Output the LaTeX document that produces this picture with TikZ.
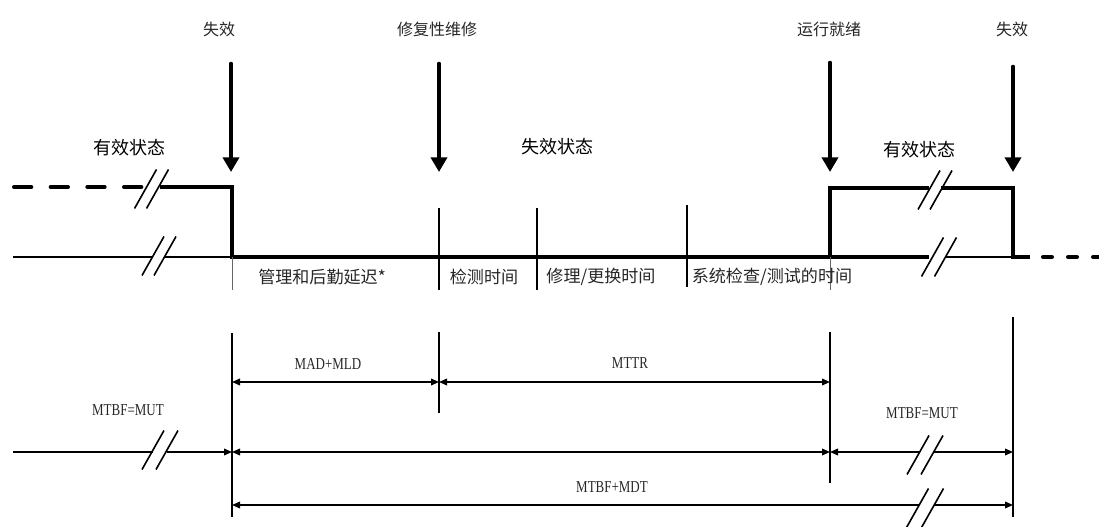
\documentclass[tikz,border=0pt]{standalone}
\usepackage{fontspec}
\setmainfont{Liberation Serif}[FakeStretch=0.78]
\newfontfamily\cjk{Noto Sans CJK SC}
\usetikzlibrary{arrows.meta}
\newcommand\brkmark[3]{%
  \draw[brkln] (#1-#3/2-11,#2+19.5) -- (#1-#3/2+11,#2-19.5);
  \draw[brkln] (#1+#3/2-11,#2+19.5) -- (#1+#3/2+11,#2-19.5);}
\begin{document}
\begin{tikzpicture}[x=0.75pt,y=-0.75pt,
  waveln/.style={line width=3pt},
  wavedsA/.style={line width=3pt,line cap=round,dash pattern=on 13pt off 14.5pt},
  wavedsB/.style={line width=3pt,line cap=round,dash pattern=on 6.75pt off 12pt},
  baseln/.style={line width=1pt},
  grayln/.style={line width=0.6pt,black!60},
  tickln/.style={line width=1.5pt},
  vln/.style={line width=1.5pt},
  brkln/.style={line width=1.2pt},
  evt/.style={line width=3.5pt,line cap=round,-{Triangle[length=11pt,width=12pt]}},
  dimln/.style={line width=1.1pt},
  tipL/.style={{Triangle[length=6pt,width=5pt]}-},
  tipR/.style={-{Triangle[length=6pt,width=5pt]}},
  tipLR/.style={{Triangle[length=6pt,width=5pt]}-{Triangle[length=6pt,width=5pt]}},
  toplbl/.style={font=\cjk\fontsize{12pt}{14pt}\selectfont,text=black!85,inner sep=0pt},
  statelbl/.style={font=\cjk\fontsize{13.5pt}{16pt}\selectfont,inner sep=0pt},
  sublbl/.style={font=\cjk\fontsize{12.8pt}{14pt}\selectfont,text=black!85,inner sep=0pt},
  latlbl/.style={font=\fontsize{12.5pt}{14pt}\selectfont,text=black!85,inner sep=0pt}
]
\useasboundingbox (0,0) rectangle (1099,527);

% event labels and arrows
\node[toplbl] (ev1) at (219,29) {失效};
\node[toplbl] (ev2) at (437,29) {修复性维修};
\node[toplbl] (ev3) at (829,29) {运行就绪};
\node[toplbl] (ev4) at (1012,29) {失效};
\coordinate (a1s) at (231,64); \coordinate (a1e) at (231,172);
\coordinate (a2s) at (439,64); \coordinate (a2e) at (439,172);
\coordinate (a3s) at (830,63); \coordinate (a3e) at (830,172);
\coordinate (a4s) at (1013,67); \coordinate (a4e) at (1013,172);
\draw[evt] (a1s) -- (a1e);
\draw[evt] (a2s) -- (a2e);
\draw[evt] (a3s) -- (a3e);
\draw[evt] (a4s) -- (a4e);

% state labels
\node[statelbl] (st1) at (129,148) {有效状态};
\node[statelbl] (st2) at (557,147) {失效状态};
\node[statelbl] (st3) at (919,150) {有效状态};

% waveform
\draw[wavedsA] (14,187) -- (142,187);
\brkmark{151.5}{189}{12}
\draw[waveln] (160,187) -- (232,187) -- (232,257) -- (929,257);
\draw[baseln] (13,257) -- (153,257);
\draw[baseln] (165,257) -- (232,257);
\brkmark{159}{256}{12}
\draw[waveln] (830,257) -- (830,188) -- (929,188);
\brkmark{935}{190}{12}
\draw[waveln] (941,188) -- (1013,188) -- (1013,257) -- (1030,257);
\brkmark{939}{257}{13}
\draw[baseln] (946,257) -- (1013,257);
\draw[wavedsB] (1043,257) -- (1099,257);

% ticks and phase labels
\draw[grayln] (232,257) -- (232,290);
\draw[grayln] (830,257) -- (830,290);
\draw[tickln] (439,208) -- (439,290);
\draw[tickln] (537,208) -- (537,290);
\draw[tickln] (687,205) -- (687,287);
\node[sublbl] (p1) at (322,277) {管理和后勤延迟*};
\node[sublbl] (p2) at (484,277) {检测时间};
\node[sublbl] (p3) at (601,277) {修理/更换时间};
\node[sublbl] (p4) at (772,277) {系统检查/测试的时间};

% lower verticals
\coordinate (v1t) at (232,333); \coordinate (v1b) at (232,517);
\coordinate (v2t) at (439,332); \coordinate (v2b) at (439,413);
\coordinate (v3t) at (830,332); \coordinate (v3b) at (830,483);
\coordinate (v4t) at (1013,317); \coordinate (v4b) at (1013,517);
\draw[vln] (v1t) -- (v1b);
\draw[vln] (v2t) -- (v2b);
\draw[vln] (v3t) -- (v3b);
\draw[vln] (v4t) -- (v4b);

% row 1
\coordinate (r1a) at (232,382); \coordinate (r1b) at (439,382); \coordinate (r1c) at (830,382);
\draw[dimln,tipLR] (r1a) -- (r1b);
\draw[dimln,tipLR] (r1b) -- (r1c);
\node[latlbl] (madmld) at (328,364) {MAD+MLD};
\node[latlbl] (mttr) at (630,363) {MTTR};

% row 2
\coordinate (r2s) at (13,452); \coordinate (r2k1) at (153,452); \coordinate (r2k2) at (167,452);
\coordinate (r2a) at (232,452); \coordinate (r2c) at (830,452);
\coordinate (r2k3) at (919,452); \coordinate (r2k4) at (933,452); \coordinate (r2d) at (1013,452);
\draw[dimln] (r2s) -- (r2k1);
\draw[dimln,tipR] (r2k2) -- (r2a);
\brkmark{160}{450}{14}
\draw[dimln,tipLR] (r2a) -- (r2c);
\draw[dimln,tipL] (r2c) -- (r2k3);
\draw[dimln,tipR] (r2k4) -- (r2d);
\brkmark{925}{455}{14}
\node[latlbl] (mut1) at (128,410) {MTBF=MUT};
\node[latlbl] (mut2) at (922,413) {MTBF=MUT};

% row 3
\coordinate (r3a) at (232,505); \coordinate (r3k1) at (919,505);
\coordinate (r3k2) at (934,505); \coordinate (r3d) at (1013,505);
\draw[dimln,tipL] (r3a) -- (r3k1);
\draw[dimln,tipR] (r3k2) -- (r3d);
\brkmark{925}{508}{15}
\node[latlbl] (mdt) at (612,487) {MTBF+MDT};
\end{tikzpicture}
\end{document}
